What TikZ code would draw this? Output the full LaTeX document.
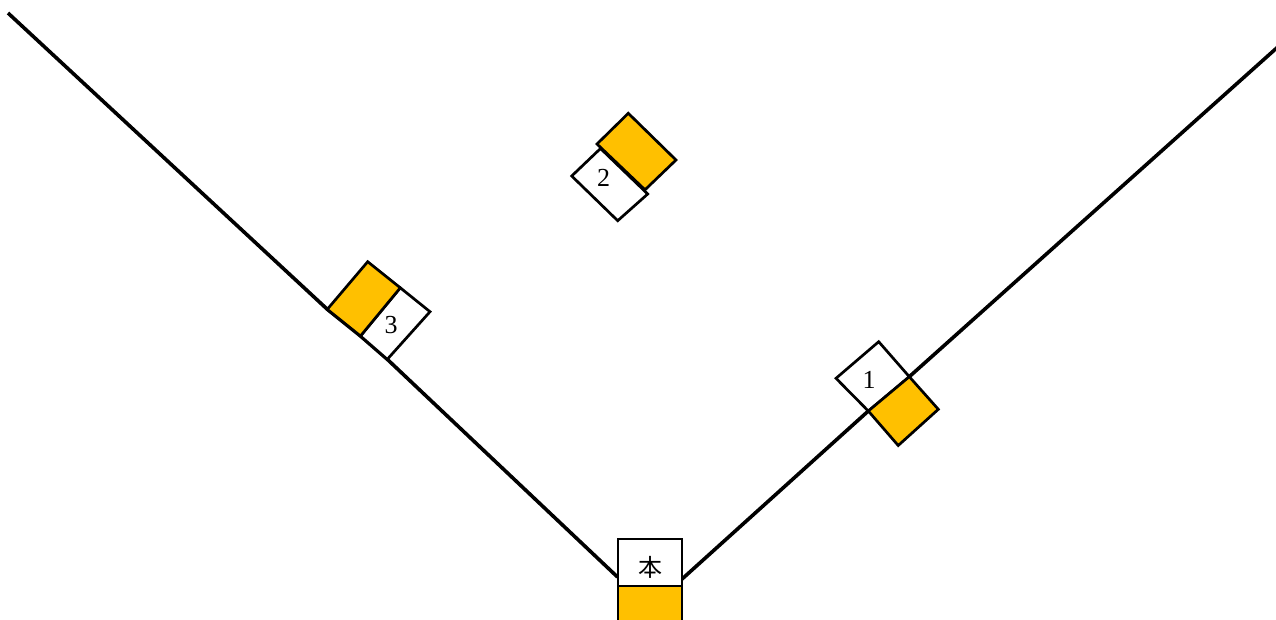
\documentclass[tikz,border=0pt]{standalone}
\usepackage{fontspec}
\setmainfont{Liberation Serif}
\newfontfamily\cjkfont{Noto Sans CJK JP}
\definecolor{basegold}{HTML}{FFC000}
\begin{document}
\begin{tikzpicture}[x=1pt,y=-1pt,
  foul/.style={draw=black,line width=3.6pt,line join=miter},
  whitebox/.style={draw=black,fill=white,line width=2.7pt,line join=miter},
  goldbox/.style={draw=black,fill=basegold,line width=2.7pt,line join=miter},
  lbl/.style={inner sep=0pt,font=\fontsize{26}{26}\selectfont}]
\useasboundingbox (0,0) rectangle (1276,619);
\clip (0,0) rectangle (1276,619);
% key coordinates
\coordinate (lfar) at (8,13);
\coordinate (rfar) at (1280,45);
\coordinate (homeL) at (617.5,577);
\coordinate (homeR) at (681.5,579.5);
% base 3
\coordinate (t3oL) at (327.3,309.3);
\coordinate (t3oT) at (367.7,261.7);
\coordinate (t3oR) at (400.3,287.8);
\coordinate (t3oB) at (360.5,336);
\coordinate (t3wR) at (430,311.7);
\coordinate (t3wB) at (387.3,359.3);
% base 1
\coordinate (f1wT) at (878.7,341.7);
\coordinate (f1wL) at (836,378.3);
\coordinate (f1wB) at (868.3,411);
\coordinate (f1wR) at (909.3,376.7);
\coordinate (f1oR) at (938.3,409.3);
\coordinate (f1oB) at (898.2,445.5);
% base 2
\coordinate (s2wL) at (571.7,176);
\coordinate (s2wB) at (617.7,220.7);
\coordinate (s2wR) at (647.7,194);
\coordinate (s2wT) at (600.5,148.5);
\coordinate (s2oL) at (597,144);
\coordinate (s2oT) at (628.3,113.3);
\coordinate (s2oR) at (676,160);
\coordinate (s2oB) at (645,189.8);
% foul lines
\draw[foul] (lfar) -- (t3oL) -- (t3oB) -- (t3wB) -- (homeL);
\draw[foul] (homeR) -- (f1wB) -- (f1wR) -- (rfar);
% home plate
\draw[goldbox] (618,586) rectangle (682,640);
\draw[whitebox] (618,539) rectangle (682,586);
\node[lbl,font=\cjkfont\fontsize{24}{24}\selectfont] (home) at (650,567) {本};
% third base
\draw[whitebox] (t3oR) -- (t3wR) -- (t3wB) -- (t3oB) -- cycle;
\draw[goldbox] (t3oL) -- (t3oT) -- (t3oR) -- (t3oB) -- cycle;
\node[lbl] (third) at (391,325) {3};
% first base
\draw[whitebox] (f1wT) -- (f1wR) -- (f1wB) -- (f1wL) -- cycle;
\draw[goldbox] (f1wR) -- (f1oR) -- (f1oB) -- (f1wB) -- cycle;
\node[lbl] (first) at (869,380) {1};
% second base
\draw[whitebox] (s2wL) -- (s2wT) -- (s2wR) -- (s2wB) -- cycle;
\draw[goldbox] (s2oL) -- (s2oT) -- (s2oR) -- (s2oB) -- cycle;
\node[lbl] (second) at (603.5,178) {2};
\end{tikzpicture}
\end{document}
